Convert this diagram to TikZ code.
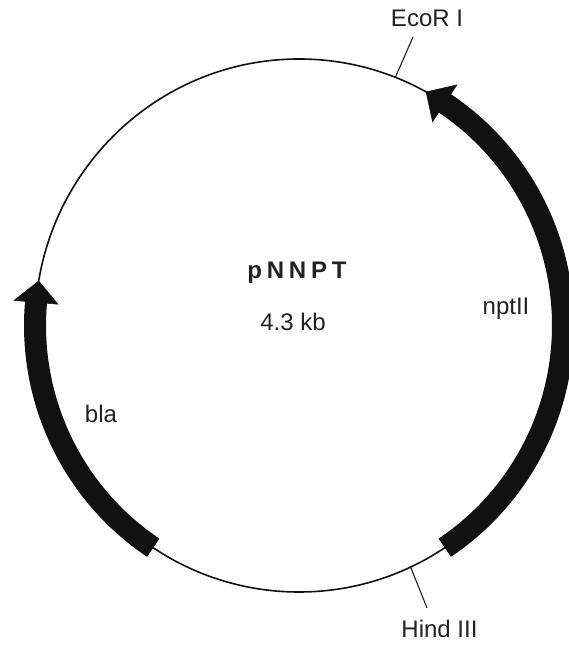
\documentclass[tikz,border=0pt]{standalone}
\usepackage{fontspec}
\setmainfont{Liberation Sans}
\usetikzlibrary{calc}
\definecolor{ink}{HTML}{111111}
\definecolor{txt}{HTML}{222222}
\tikzset{
  backbone/.style={draw=ink, line width=1.6pt},
  genebar/.style={draw=ink, line width=22pt, line cap=butt},
  genehead/.style={fill=ink, draw=ink, line width=0.6pt, line join=miter},
  sitetick/.style={draw=txt, line width=1.1pt},
  lbl/.style={text=txt, font=\fontsize{24}{28}\selectfont, inner sep=0pt, anchor=base},
}
\begin{document}
\begin{tikzpicture}[x=1pt,y=1pt]
\useasboundingbox (0,0) rectangle (568,645);
\coordinate (C) at (299,319.5);
% backbone
\draw[backbone] (C) ellipse [x radius=264pt, y radius=266.5pt];
% bla gene
\draw[genebar] ([shift={(236.5:264pt and 266.5pt)}]C) arc[start angle=236.5, end angle=174.3, x radius=264pt, y radius=266.5pt];
\coordinate (blaO) at ([shift={(175:286pt and 288.5pt)}]C);
\coordinate (blaI) at ([shift={(175:242pt and 244.5pt)}]C);
\coordinate (blaT) at ([shift={(170.4:264pt and 266.5pt)}]C);
\filldraw[genehead] (blaO) -- (blaT) -- (blaI) -- cycle;
% nptII gene
\draw[genebar] ([shift={(-56.5:264pt and 266.5pt)}]C) arc[start angle=-56.5, end angle=57.2, x radius=264pt, y radius=266.5pt];
\coordinate (nptO) at ([shift={(56.5:286pt and 288.5pt)}]C);
\coordinate (nptI) at ([shift={(56.5:242pt and 244.5pt)}]C);
\coordinate (nptT) at ([shift={(61.2:264pt and 266.5pt)}]C);
\filldraw[genehead] (nptO) -- (nptT) -- (nptI) -- cycle;
% restriction sites
\coordinate (ecoA) at ([shift={(68.6:264pt and 266.5pt)}]C);
\coordinate (ecoB) at (413,608);
\draw[sitetick] (ecoA) -- (ecoB);
\node[lbl] (eco) at (427,618) {EcoR I};
\coordinate (hindA) at ([shift={(-65:264pt and 266.5pt)}]C);
\coordinate (hindB) at (427,37);
\draw[sitetick] (hindA) -- (hindB);
\node[lbl] (hind) at (439.5,8) {Hind III};
% labels
\node[lbl, font=\fontsize{24}{28}\selectfont\bfseries\addfontfeatures{LetterSpace=20}] (name) at (297,366) {pNNPT};
\node[lbl] (size) at (293,314) {4.3 kb};
\node[lbl] (bla) at (101,222) {bla};
\node[lbl] (npt) at (506,330) {nptII};
\end{tikzpicture}
\end{document}
